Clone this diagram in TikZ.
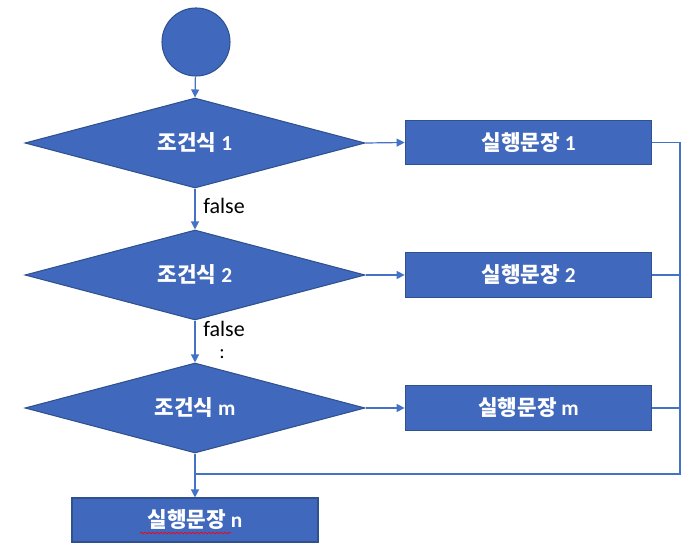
\documentclass[tikz,border=0pt]{standalone}
\usepackage{fontspec}
\setmainfont{Carlito}
\newfontfamily\cjk{Noto Sans CJK KR}
\usetikzlibrary{shapes.geometric,arrows.meta,decorations.pathmorphing}
\definecolor{fillblue}{HTML}{4068BD}
\definecolor{edgeblue}{HTML}{2F528F}
\definecolor{lineblue}{HTML}{4472C4}
\tikzset{
  shapebase/.style={fill=fillblue, draw=edgeblue, line width=0.8pt, text=white, font=\fontsize{16}{18}\selectfont\bfseries},
  startcircle/.style={shapebase, circle, minimum size=51pt, inner sep=0pt},
  cond/.style={shapebase, diamond, minimum width=255pt, minimum height=67.5pt, inner sep=0pt, aspect=3.78},
  stmt/.style={shapebase, rectangle, minimum width=185pt, minimum height=33.5pt, inner sep=0pt},
  conn/.style={draw=lineblue, line width=0.9pt},
  arr/.style={conn, -{Triangle[length=6pt,width=6pt]}},
  lbl/.style={font=\fontsize{16.5}{18}\selectfont, text=black, inner sep=0pt}
}
\begin{document}
\begin{tikzpicture}[x=0.75pt,y=-0.75pt]
\useasboundingbox (0,0) rectangle (694,555);
\node[startcircle] (start) at (196,42) {};
\node[cond] (c1) at (195,143) {{\cjk 조건식} 1};
\node[cond] (c2) at (195,275) {{\cjk 조건식} 2};
\node[cond] (c3) at (195,408) {{\cjk 조건식} m};
\node[stmt] (s1) at (528.5,142.5) {{\cjk 실행문장} 1};
\node[stmt] (s2) at (528.5,275) {{\cjk 실행문장} 2};
\node[stmt] (s3) at (528.5,408) {{\cjk 실행문장} m};
\node[stmt, minimum width=184.5pt, minimum height=33pt] (sn) at (195,520) {{\cjk 실행문장} n};
\node[lbl] (f1) at (224,206) {false};
\node[lbl] (f2) at (224,329) {false};
\node[lbl, font=\fontsize{15}{16}\selectfont] (dots) at (222,354) {:};
\coordinate (rtop) at (680,142.5);
\coordinate (r2) at (680,275);
\coordinate (r3) at (680,408);
\coordinate (rbot) at (680,474);
\coordinate (join) at (196,474);
\draw[arr] (start) -- (c1.north);
\draw[arr] (c1.south) -- (c2.north);
\draw[arr] (c2.south) -- (c3.north);
\draw[arr] (c3.south) -- (sn.north);
\draw[arr] (c1.east) -- (s1.west);
\draw[arr] (c2.east) -- (s2.west);
\draw[arr] (c3.east) -- (s3.west);
\draw[conn] (s1.east) -- (rtop) -- (rbot) -- (join);
\draw[conn] (s2.east) -- (r2);
\draw[conn] (s3.east) -- (r3);
\draw[red, line width=0.5pt, decorate, decoration={snake, amplitude=0.6pt, segment length=3pt}] (140,533) -- (231,533);
\end{tikzpicture}
\end{document}
